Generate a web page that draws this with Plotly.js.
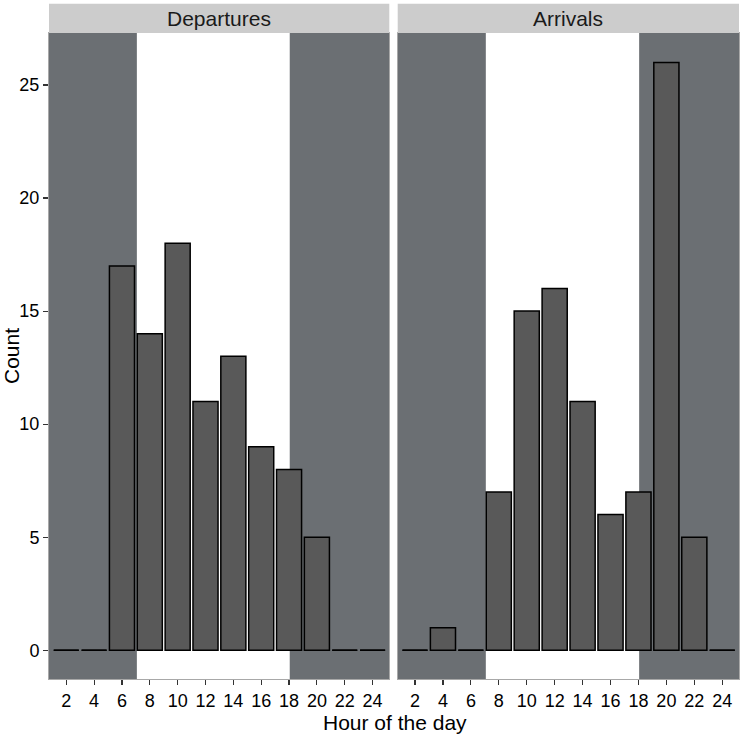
<!DOCTYPE html>
<html>
<head>
<meta charset="utf-8">
<script src="https://cdn.plot.ly/plotly-3.0.1.min.js"></script>
<style>html,body{margin:0;padding:0;background:#fff;}#chart{width:743px;height:740px;}</style>
</head>
<body>
<div id="chart"></div>
<script>
// ---- data ----
var hours = [2, 4, 6, 8, 10, 12, 14, 16, 18, 20, 22, 24];
var departures = [0, 0, 17, 14, 18, 11, 13, 9, 8, 5, 0, 0];
var arrivals = [0, 1, 0, 7, 15, 16, 11, 6, 7, 26, 5, 0];
var panelTitles = ["Departures", "Arrivals"];
var dayLight = [7.07, 18.05];   // sunrise, sunset (hour)
var yTicks = [0, 5, 10, 15, 20, 25];

// ---- styling ----
var barWidth = 1.8;
var xRange = [0.76, 25.2];
var yRange = [-1.27, 27.3];
var nightColor = "#6b6f73";
var barColor = "#595959";
var font = "Liberation Sans, Arial, sans-serif";

function barTrace(vals, xa, ya) {
  return {
    type: "bar", x: hours, y: vals, width: barWidth,
    xaxis: xa, yaxis: ya,
    marker: {color: barColor, line: {color: "#000000", width: 1.5}},
    hoverinfo: "x+y", showlegend: false
  };
}
function zeroTrace(vals, xa, ya) {
  var xs = [], ys = [];
  for (var i = 0; i < hours.length; i++) {
    if (vals[i] === 0) {
      xs.push(hours[i] - barWidth / 2, hours[i] + barWidth / 2, null);
      ys.push(0, 0, null);
    }
  }
  return {type: "scatter", mode: "lines", x: xs, y: ys, xaxis: xa, yaxis: ya,
          line: {color: "#000000", width: 1.5}, hoverinfo: "skip", showlegend: false};
}

var data = [
  barTrace(departures, "x", "y"), zeroTrace(departures, "x", "y"),
  barTrace(arrivals, "x2", "y2"), zeroTrace(arrivals, "x2", "y2")
];

var W = 743, H = 740, mL = 49, mR = 4, mT = 33, mB = 61.3;
var pw = W - mL - mR, ph = H - mT - mB;
var dom1 = [0, (389.3 - mL) / pw];
var dom2 = [(397.7 - mL) / pw, 1];

var shapes = [];
["x", "x2"].forEach(function (xa) {
  shapes.push({type: "rect", xref: xa, yref: "paper", x0: xRange[0], x1: dayLight[0], y0: 0, y1: 1,
               fillcolor: nightColor, line: {width: 0}, layer: "below"});
  shapes.push({type: "rect", xref: xa, yref: "paper", x0: dayLight[1], x1: xRange[1], y0: 0, y1: 1,
               fillcolor: nightColor, line: {width: 0}, layer: "below"});
});
var stripTop = 1 + (mT - 3.7) / ph;
[dom1, dom2].forEach(function (d) {
  shapes.push({type: "rect", xref: "paper", yref: "paper", x0: d[0], x1: d[1], y0: 1, y1: stripTop,
               fillcolor: "#cccccc", line: {width: 0}});
});

var annotations = [];
[dom1, dom2].forEach(function (d, i) {
  annotations.push({xref: "paper", yref: "paper", x: (d[0] + d[1]) / 2, y: (1 + stripTop) / 2,
                    xanchor: "center", yanchor: "middle", showarrow: false,
                    text: panelTitles[i], font: {family: font, size: 21, color: "#1a1a1a"}});
});
annotations.push({xref: "paper", yref: "paper", x: (394.7 - mL) / pw, y: (678.7 - 722) / ph,
                  xanchor: "center", yanchor: "middle", showarrow: false,
                  text: "Hour of the day", font: {family: font, size: 21, color: "#000000"}});

function xAxis(dom, anchor) {
  return {domain: dom, anchor: anchor, range: xRange, tickmode: "array", tickvals: hours,
          ticks: "outside", ticklen: 5, tickwidth: 1.2, tickcolor: "#333333",
          showgrid: false, zeroline: false, showline: true, mirror: true,
          linecolor: "#a8a8a8", linewidth: 1,
          tickfont: {family: font, size: 18, color: "#000000"}, fixedrange: true};
}
function yAxis(anchor, labels) {
  return {domain: [0, 1], anchor: anchor, range: yRange, tickmode: "array", tickvals: yTicks,
          ticks: "outside", ticklen: 5, tickwidth: 1.2, tickcolor: "#333333",
          showticklabels: labels, showgrid: false, zeroline: false,
          showline: true, mirror: true, linecolor: "#a8a8a8", linewidth: 1,
          tickfont: {family: font, size: 18, color: "#000000"}, fixedrange: true};
}

var yax = yAxis("x", true);
yax.title = {text: "Count", font: {family: font, size: 21, color: "#000000"}, standoff: 6};
var yax2 = yAxis("x2", false);
yax2.ticks = "";
yax2.matches = "y";

var layout = {
  width: W, height: H,
  margin: {l: mL, r: mR, t: mT, b: mB, pad: 0},
  paper_bgcolor: "#ffffff", plot_bgcolor: "#ffffff",
  bargap: 0,
  xaxis: xAxis(dom1, "y"), xaxis2: xAxis(dom2, "y2"),
  yaxis: yax, yaxis2: yax2,
  shapes: shapes, annotations: annotations,
  font: {family: font},
  showlegend: false
};

Plotly.newPlot("chart", data, layout, {displayModeBar: false, staticPlot: true});
</script>
</body>
</html>
